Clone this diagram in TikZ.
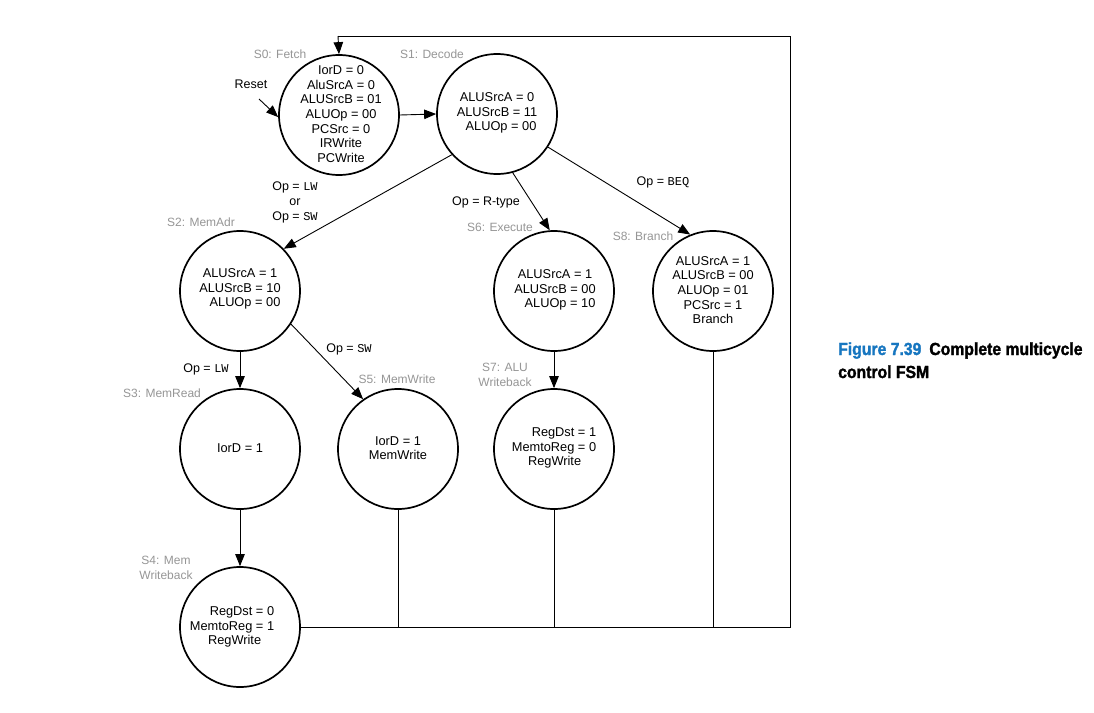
\documentclass[tikz,border=0pt]{standalone}
\usepackage{fontspec}
\setmainfont{Liberation Sans}
\newfontfamily\opfont{Liberation Mono}
\newfontfamily\capfont[FakeStretch=0.9,FakeBold=1.6]{Liberation Sans}
\usetikzlibrary{arrows.meta}
\definecolor{lblgray}{RGB}{150,150,150}
\definecolor{figblue}{RGB}{22,118,192}
\newcommand{\opc}[1]{{\opfont\fontsize{12}{14}\selectfont #1}}
\begin{document}
\begin{tikzpicture}[x=1pt,y=-1pt,
  state/.style={circle,draw,line width=1.7pt,minimum size=120pt,inner sep=0pt},
  body/.style={align=center,inner sep=0pt,font=\fontsize{12.8}{14.6}\selectfont},
  slabel/.style={text=lblgray,align=center,inner sep=0pt,font=\fontsize{12}{15}\selectfont},
  cond/.style={align=center,inner sep=0pt,font=\fontsize{12.5}{15}\selectfont},
  wire/.style={line width=0.9pt},
  arr/.style={wire,-{Triangle[length=12pt,width=9.5pt]}}]
\useasboundingbox[fill=white] (0,0) rectangle (1094,712);

% states
\node[state] (s0) at (339,115) {};
\node[state] (s1) at (497,114) {};
\node[state] (s2) at (240,291) {};
\node[state] (s6) at (554,291) {};
\node[state] (s8) at (713,291) {};
\node[state] (s3) at (240,449) {};
\node[state] (s5) at (398,449) {};
\node[state] (s7) at (554,449) {};
\node[state] (s4) at (240,627) {};

% state outputs
\node[body] (t0) at (341,114) {IorD = 0\\AluSrcA = 0\\ALUSrcB = 01\\ALUOp = 00\\PCSrc = 0\\IRWrite\\PCWrite};
\node[body] (t1) at (497,113) {ALUSrcA = 0\\ALUSrcB = 11\\\hspace*{8pt}ALUOp = 00};
\node[body] (t2) at (240,289) {ALUSrcA = 1\\ALUSrcB = 10\\\hspace*{10pt}ALUOp = 00};
\node[body] (t6) at (555,290) {ALUSrcA = 1\\ALUSrcB = 00\\\hspace*{10pt}ALUOp = 10};
\node[body] (t8) at (713,290) {ALUSrcA = 1\\ALUSrcB = 00\\ALUOp = 01\\PCSrc = 1\\Branch};
\node[body] (t3) at (240,448) {IorD = 1};
\node[body] (t5) at (398,448) {IorD = 1\\MemWrite};
\node[body,align=right] (t7) at (554,448) {RegDst = 1\\MemtoReg = 0\\\makebox[0pt][r]{RegWrite\hspace*{15pt}}};
\node[body,align=right] (t4) at (232,627) {RegDst = 0\\MemtoReg = 1\\\makebox[0pt][r]{RegWrite\hspace*{13pt}}};

% state names
\node[slabel] (n0) at (280,54) {S0: Fetch};
\node[slabel] (n1) at (432,54) {S1: Decode};
\node[slabel] (n2) at (201,222) {S2: MemAdr};
\node[slabel] (n6) at (500,227) {S6: Execute};
\node[slabel] (n8) at (643,236) {S8: Branch};
\node[slabel] (n3) at (162,393) {S3: MemRead};
\node[slabel] (n5) at (397,379) {S5: MemWrite};
\node[slabel] (n7) at (505,375) {S7: ALU\\Writeback};
\node[slabel] (n4) at (166,568) {S4: Mem\\Writeback};

% reset
\node[cond] (reset) at (251,84) {Reset};
\coordinate (rs) at (259,99);
\draw[arr] (rs) -- (s0.182);

% transitions
\draw[arr] (s0.east) -- (s1.west);
\draw[arr] (s1.222) -- (s2.44);
\draw[arr] (s1.285) -- (s6.94);
\draw[arr] (s1.-33) -- (s8.112);
\draw[arr] (s2.south) -- (s3.north);
\draw[arr] (s2.-33) -- (s5.125);
\draw[arr] (s6.south) -- (s7.north);
\draw[arr] (s3.south) -- (s4.north);

% transition conditions
\node[cond] (c12) at (295,202) {Op = \opc{LW}\\or\\Op = \opc{SW}};
\node[cond] (c16) at (486,202) {Op = R-type};
\node[cond] (c18) at (663,182) {Op = \opc{BEQ}};
\node[cond] (c23) at (206,369) {Op = \opc{LW}};
\node[cond] (c25) at (349,349) {Op = \opc{SW}};

% return path to fetch
\coordinate (br) at (790,627);
\coordinate (tr) at (790,36);
\coordinate (tl) at (338,36);
\draw[wire] (s4.east) -- (br) -- (tr) -- (tl);
\draw[arr] (tl) -- (s0.north);
\draw[wire] (s5.south) -- (s5.south |- br);
\draw[wire] (s7.south) -- (s7.south |- br);
\draw[wire] (s8.south) -- (s8.south |- br);

% caption
\node[anchor=base west,inner sep=0pt,font=\capfont\bfseries\fontsize{17.5}{23}\selectfont,align=left] (cap) at (838,378)
  {\textcolor{figblue}{Figure 7.39}\hspace{8pt}Complete multicycle\\control FSM};
\end{tikzpicture}
\end{document}
